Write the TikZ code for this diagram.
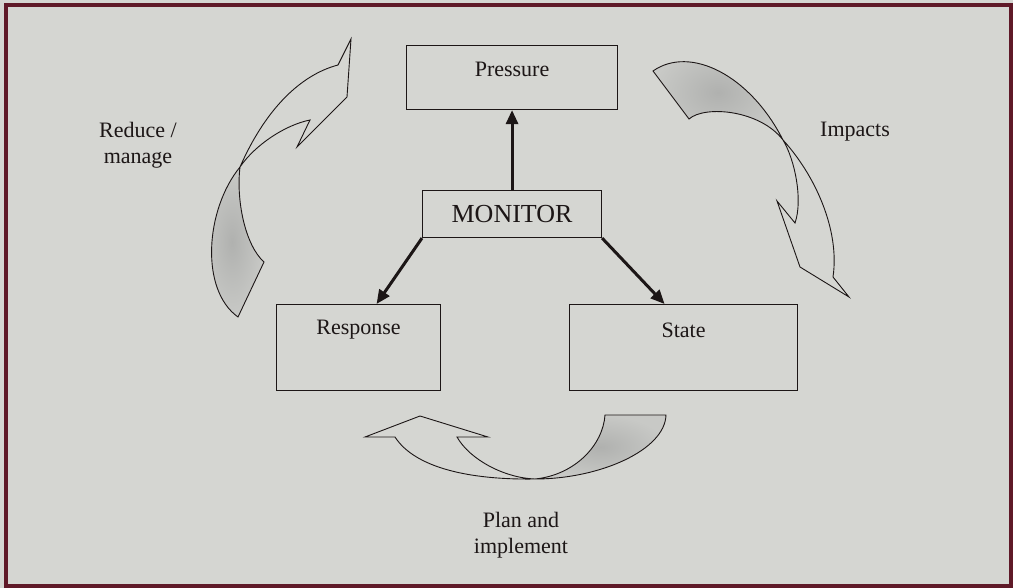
\documentclass[tikz,border=0pt]{standalone}
\usepackage{fontspec}
\setmainfont{Liberation Serif}
\usetikzlibrary{arrows.meta}
\definecolor{bg}{RGB}{213,214,210}
\definecolor{framecol}{RGB}{95,25,40}
\definecolor{taildark}{RGB}{176,177,175}
\definecolor{taillight}{RGB}{200,201,198}
\definecolor{ink}{RGB}{28,22,22}
\begin{document}
\begin{tikzpicture}[x=1pt,y=-1pt,
  box/.style={draw=ink,line width=1.1pt,inner sep=0pt},
  lbl/.style={font=\fontsize{22}{26}\selectfont,text=ink,inner sep=0pt},
  conn/.style={line width=3pt,draw=ink,-{Triangle[length=14pt,width=12pt]}},
  ribbon/.style={draw=ink,line width=0.9pt,line join=miter},
  tailfill/.style={inner color=taildark,outer color=taillight}]
\fill[bg] (0,0) rectangle (1013,588);
\useasboundingbox (0,0) rectangle (1013,588);
\draw[framecol,line width=3.5pt] (6,5) rectangle (1011,586);

% boxes
\node[box,minimum width=211pt,minimum height=64pt,anchor=north west] (pressure) at (406,45) {};
\node[lbl] (pressuretext) at ([yshift=-24pt]pressure.north) {Pressure};
\node[box,minimum width=179pt,minimum height=47pt,anchor=north west,font=\fontsize{26}{30}\selectfont,text=ink] (monitor) at (422,190) {MONITOR};
\node[box,minimum width=164pt,minimum height=86pt,anchor=north west] (response) at (276,304) {};
\node[lbl] (responsetext) at ([yshift=-26pt]response.north) {Response};
\node[box,minimum width=228pt,minimum height=86pt,anchor=north west] (state) at (569,304) {};
\node[lbl] (statetext) at ([yshift=-26pt]state.north) {State};

% connectors
\draw[conn] (monitor.north) -- (pressure.south);
\draw[conn] (monitor.south west) -- ([xshift=18pt]response.north);
\draw[conn] (monitor.south east) -- ([xshift=-19pt]state.north);

% left block arrow (Reduce / manage)
\shade[tailfill] (238,317) .. controls (200,290) and (205,210) .. (240,167)
  .. controls (236,200) and (245,245) .. (264,262) -- cycle;
\draw[ribbon] (238,317) .. controls (200,290) and (205,210) .. (240,167)
  .. controls (265,110) and (300,75) .. (338,65) -- (351,39) -- (347,97)
  -- (297,147) -- (310,120) .. controls (285,125) and (255,145) .. (240,167)
  .. controls (236,200) and (245,245) .. (264,262) -- cycle;

% right block arrow (Impacts)
\shade[tailfill] (653,71) .. controls (690,45) and (750,75) .. (783,140)
  .. controls (760,110) and (705,105) .. (689,119) -- cycle;
\draw[ribbon] (653,71) .. controls (690,45) and (750,75) .. (783,140)
  .. controls (815,175) and (840,230) .. (833,277) -- (849,297) -- (800,267)
  -- (777,201) -- (795,223) .. controls (803,200) and (795,160) .. (783,140)
  .. controls (760,110) and (705,105) .. (689,119) -- cycle;

% bottom block arrow (Plan and implement)
\shade[tailfill] (535,479) .. controls (575,475) and (603,445) .. (605,415)
  -- (666,415) .. controls (665,450) and (600,479) .. (535,479) -- cycle;
\draw[ribbon] (666,415) .. controls (665,450) and (600,479) .. (535,479)
  .. controls (470,480) and (415,468) .. (395,437) -- (365,437) -- (420,416)
  -- (488,437) -- (457,437) .. controls (470,460) and (505,478) .. (535,479)
  .. controls (575,475) and (603,445) .. (605,415) -- cycle;

% labels
\node[lbl,align=center] (reduce) at (138,145) {Reduce /\\manage};
\node[lbl] (impacts) at (855,132) {Impacts};
\node[lbl,align=center] (plan) at (521,535) {Plan and\\implement};
\end{tikzpicture}
\end{document}
